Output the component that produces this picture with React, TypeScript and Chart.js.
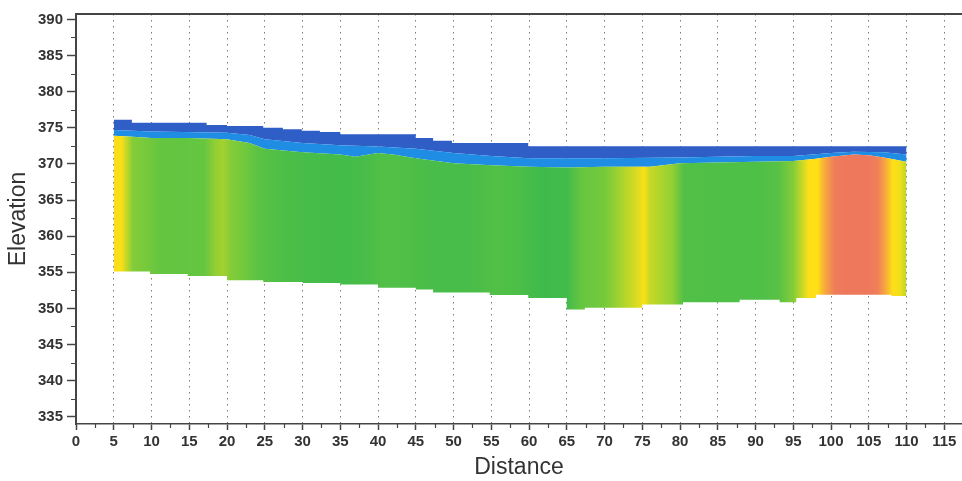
import React, { useEffect, useRef } from 'react';
import { Chart, registerables } from 'chart.js';

Chart.register(...registerables);

// Ground surface (top of the section), stepped
const topDistance = [5, 7.4, 7.4, 17.3, 17.3, 20, 20, 24.8, 24.8, 27.4, 27.4, 29.9, 29.9, 32.3, 32.3, 35, 35, 45, 45, 47.3, 47.3, 49.8, 49.8, 59.9, 59.9, 110];
const topElevation = [376.1, 376.1, 375.7, 375.7, 375.4, 375.4, 375.25, 375.25, 375.0, 375.0, 374.8, 374.8, 374.6, 374.6, 374.4, 374.4, 374.1, 374.1, 373.6, 373.6, 373.2, 373.2, 372.9, 372.9, 372.45, 372.45];

// Boundary between dark-blue and light-blue layers
const splitDistance = [5, 10, 20, 23, 25, 30, 35, 40, 45, 50, 55, 60, 70, 80, 90, 95, 100, 103, 107, 110];
const splitElevation = [374.7, 374.5, 374.3, 374.0, 373.4, 372.9, 372.6, 372.4, 372.1, 371.5, 371.1, 370.8, 370.8, 370.9, 371.1, 371.1, 371.5, 371.7, 371.6, 371.3];

// Bottom of the blue (low resistivity) layer / top of the body
const interfaceDistance = [5, 7, 10, 15, 20, 23, 25, 30, 35, 37, 40, 42, 45, 50, 55, 60, 65, 70, 76, 80, 85, 90, 95, 98, 100, 103, 105, 107, 110];
const interfaceElevation = [373.9, 373.8, 373.6, 373.6, 373.4, 372.9, 372.1, 371.6, 371.3, 371.0, 371.5, 371.3, 370.8, 370.1, 369.8, 369.6, 369.5, 369.6, 369.6, 370.1, 370.2, 370.3, 370.4, 370.7, 371.0, 371.3, 371.2, 370.9, 370.3];

// Bottom of the section, stepped
const bottomDistance = [5, 9.8, 9.8, 14.8, 14.8, 20, 20, 24.8, 24.8, 30, 30, 35, 35, 40, 40, 45, 45, 47.3, 47.3, 54.8, 54.8, 59.9, 59.9, 65, 65, 67.4, 67.4, 75, 75, 80.4, 80.4, 87.9, 87.9, 93.2, 93.2, 95.4, 95.4, 98, 98, 108, 108, 110];
const bottomElevation = [355.1, 355.1, 354.75, 354.75, 354.5, 354.5, 353.9, 353.9, 353.65, 353.65, 353.5, 353.5, 353.3, 353.3, 352.85, 352.85, 352.6, 352.6, 352.2, 352.2, 351.85, 351.85, 351.45, 351.45, 349.85, 349.85, 350.1, 350.1, 350.55, 350.55, 350.85, 350.85, 351.2, 351.2, 350.85, 350.85, 351.45, 351.45, 351.9, 351.9, 351.7, 351.7];

// Relative resistivity index of the body (0 = green, 1 = red) along distance
const sectionDistance = [5, 6, 6.8, 7.5, 9.5, 11, 14, 17, 18.5, 19.5, 20.5, 22, 24, 27, 30, 35, 38, 41, 44, 47, 52, 56, 59, 62, 65, 67, 70, 72, 74, 75.2, 76, 77.5, 79, 80.5, 85, 90, 93, 95, 96, 97, 98.2, 99.2, 100.5, 102, 105, 106.2, 107.2, 108.2, 109.2, 110];
const sectionIndex = [0.6, 0.6, 0.45, 0.3, 0.25, 0.2, 0.18, 0.2, 0.35, 0.4, 0.3, 0.25, 0.15, 0.08, 0.05, 0.03, 0.05, 0.1, 0.08, 0.05, 0.05, 0.1, 0.06, 0.0, 0.02, 0.2, 0.25, 0.4, 0.5, 0.6, 0.48, 0.42, 0.35, 0.1, 0.08, 0.08, 0.12, 0.3, 0.45, 0.6, 0.62, 0.75, 0.95, 1.0, 1.0, 0.9, 0.75, 0.62, 0.55, 0.45];

// ---- Styling ----
const FONT = "'Liberation Sans', Arial, sans-serif";
const TEXT = '#333333';
const AXIS = '#454545';
const DARK_BLUE = '#2f5ec6';
const LIGHT_BLUE = '#1f8de4';

const colorMapStops: [number, number[]][] = [
  [0.0, [62, 186, 76]],
  [0.2, [102, 198, 64]],
  [0.4, [162, 210, 48]],
  [0.55, [236, 222, 28]],
  [0.62, [255, 224, 22]],
  [0.75, [247, 168, 62]],
  [0.9, [240, 128, 88]],
  [1.0, [238, 120, 92]],
];

function colorFor(v: number): string {
  for (let i = 1; i < colorMapStops.length; i++) {
    const [v1, c1] = colorMapStops[i];
    const [v0, c0] = colorMapStops[i - 1];
    if (v <= v1) {
      const t = (v - v0) / (v1 - v0 || 1);
      const c = c0.map((a, k) => Math.round(a + (c1[k] - a) * t));
      return `rgb(${c[0]},${c[1]},${c[2]})`;
    }
  }
  const c = colorMapStops[colorMapStops.length - 1][1];
  return `rgb(${c[0]},${c[1]},${c[2]})`;
}

function bodyFill(context: any) {
  const chart = context.chart;
  const x = chart.scales && chart.scales.x;
  if (!chart.chartArea || !x) return colorFor(0.1);
  const d0 = sectionDistance[0];
  const d1 = sectionDistance[sectionDistance.length - 1];
  const g = chart.ctx.createLinearGradient(x.getPixelForValue(d0), 0, x.getPixelForValue(d1), 0);
  sectionDistance.forEach((d, i) => g.addColorStop((d - d0) / (d1 - d0), colorFor(sectionIndex[i])));
  return g;
}

const toPoints = (xs: number[], ys: number[]) => xs.map((x, i) => ({ x, y: ys[i] }));

const decorations = {
  id: 'decorations',
  afterDraw(chart: any) {
    const { ctx, chartArea, scales } = chart;
    const x = scales.x;
    const y = scales.y;
    ctx.save();
    ctx.strokeStyle = AXIS;
    ctx.lineWidth = 1.2;
    ctx.beginPath();
    for (let v = 2.5; v < x.max; v += 5) {
      const px = Math.round(x.getPixelForValue(v)) + 0.5;
      ctx.moveTo(px, chartArea.bottom);
      ctx.lineTo(px, chartArea.bottom + 4);
    }
    for (let v = 337.5; v < y.max; v += 5) {
      const py = Math.round(y.getPixelForValue(v)) + 0.5;
      ctx.moveTo(chartArea.left - 5, py);
      ctx.lineTo(chartArea.left, py);
    }
    ctx.stroke();
    ctx.lineWidth = 2;
    ctx.beginPath();
    ctx.moveTo(chartArea.left, chartArea.top);
    ctx.lineTo(chartArea.right, chartArea.top);
    ctx.stroke();
    ctx.restore();
  },
};

export default function App() {
  const canvasRef = useRef<HTMLCanvasElement | null>(null);

  useEffect(() => {
    const canvas = canvasRef.current;
    if (!canvas) return;
    const lineBase = { borderWidth: 0, borderColor: 'transparent', pointRadius: 0, tension: 0 };
    const chart = new Chart(canvas, {
      type: 'line',
      data: {
        datasets: [
          { ...lineBase, label: 'Bottom', data: toPoints(bottomDistance, bottomElevation), fill: false },
          { ...lineBase, label: 'Body', data: toPoints(interfaceDistance, interfaceElevation), fill: '-1', backgroundColor: bodyFill },
          { ...lineBase, label: 'Light blue', data: toPoints(splitDistance, splitElevation), fill: '-1', backgroundColor: LIGHT_BLUE },
          { ...lineBase, label: 'Dark blue', data: toPoints(topDistance, topElevation), fill: '-1', backgroundColor: DARK_BLUE },
        ],
      } as any,
      options: {
        animation: false,
        responsive: false,
        devicePixelRatio: 1,
        layout: { padding: { left: 0, top: 14, right: 0, bottom: 0 } },
        plugins: {
          legend: { display: false },
          tooltip: { enabled: false },
          filler: { drawTime: 'beforeDatasetsDraw' },
        },
        scales: {
          x: {
            type: 'linear',
            min: 0,
            max: 117.35,
            z: 1,
            ticks: {
              stepSize: 5,
              includeBounds: false,
              autoSkip: false,
              maxRotation: 0,
              padding: 3,
              color: TEXT,
              font: { family: FONT, size: 15, weight: 'bold' },
            },
            grid: {
              color: (c: any) => (c.tick && c.tick.value > 0 ? '#7a7a7a' : 'rgba(0,0,0,0)'),
              lineWidth: 1,
              drawOnChartArea: true,
              drawTicks: true,
              tickLength: 6,
              tickColor: AXIS,
              tickWidth: 1.5,
            },
            border: { display: true, color: AXIS, width: 1.5, dash: [1.5, 4.5] },
            title: {
              display: true,
              text: 'Distance',
              color: TEXT,
              font: { family: FONT, size: 23 },
              padding: { top: 0, bottom: 0 },
            },
            afterFit: (s: any) => {
              s.height = 57;
            },
          },
          y: {
            type: 'linear',
            min: 334,
            max: 390.75,
            ticks: {
              stepSize: 5,
              includeBounds: false,
              padding: 4,
              color: TEXT,
              font: { family: FONT, size: 15, weight: 'bold' },
            },
            grid: {
              display: true,
              drawOnChartArea: false,
              drawTicks: true,
              tickLength: 9,
              tickColor: AXIS,
              tickWidth: 1.5,
            },
            border: { display: true, color: AXIS, width: 2 },
            title: {
              display: true,
              text: 'Elevation',
              color: TEXT,
              font: { family: FONT, size: 23 },
              padding: { top: 5, bottom: 5 },
            },
            afterFit: (s: any) => {
              s.width = 76;
            },
          },
        },
      } as any,
      plugins: [decorations],
    });
    return () => chart.destroy();
  }, []);

  return (
    <div style={{ position: 'fixed', left: 0, top: 0, width: 962, height: 481, background: '#fff' }}>
      <canvas ref={canvasRef} width={962} height={481} style={{ width: 962, height: 481, display: 'block' }} />
    </div>
  );
}
